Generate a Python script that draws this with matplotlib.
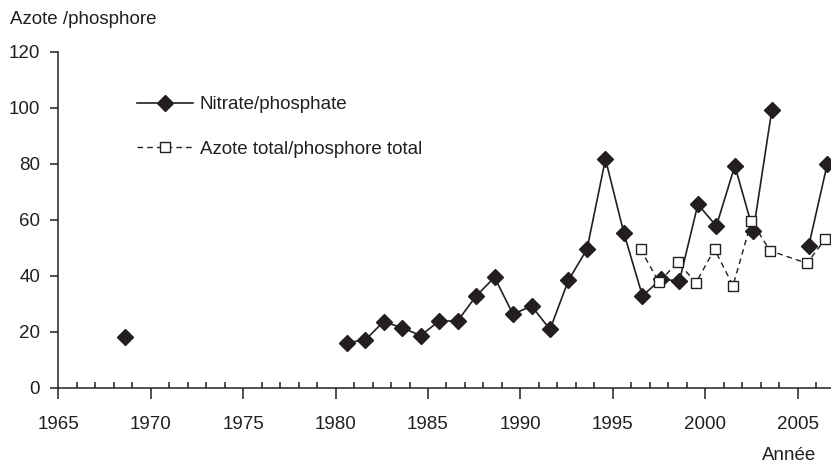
import numpy as np
import matplotlib
matplotlib.use("Agg")
import matplotlib.pyplot as plt
from matplotlib.ticker import MultipleLocator

plt.rcParams["font.family"] = ["Liberation Sans", "DejaVu Sans"]

# Nitrate/phosphate (NaN = no measurement, breaks the line)
nitrate_years = [1968.6, 1980.6, 1981.6, 1982.6, 1983.6, 1984.6, 1985.6, 1986.6,
                 1987.6, 1988.6, 1989.6, 1990.6, 1991.6, 1992.6, 1993.6, 1994.6,
                 1995.6, 1996.6, 1997.6, 1998.6, 1999.6, 2000.6, 2001.6, 2002.6,
                 2003.6, 2004.6, 2005.6, 2006.6]
nitrate_ratio = [18.1, 16.2, 17.1, 23.7, 21.5, 18.7, 23.9, 23.9,
                 32.8, 39.5, 26.3, 29.3, 20.9, 38.5, 49.5, 81.7,
                 55.2, 32.9, 38.8, 38.2, 65.5, 57.8, 79.3, 56.0,
                 99.2, np.nan, 50.8, 79.9]

# Azote total / phosphore total
total_years = [1996.5, 1997.5, 1998.5, 1999.5, 2000.5, 2001.5, 2002.5, 2003.5,
               2005.5, 2006.5]
total_ratio = [49.5, 37.7, 44.9, 37.6, 49.5, 36.5, 59.6, 49.0, 44.5, 53.2]

# the isolated 1968 point is not joined to 1980
nitrate_plot = list(nitrate_ratio)
nitrate_x = list(nitrate_years)
nitrate_x.insert(1, 1975.0)
nitrate_plot.insert(1, np.nan)

ink = "#231f20"
fs = 13.5
W, H = 831, 466
fig = plt.figure(figsize=(W / 100, H / 100), dpi=100)
ax = fig.add_axes([58.3 / W, 1 - 388 / H, 1 - 58.3 / W, (388 - 51.7) / H])

ax.plot(nitrate_x, nitrate_plot, color=ink, lw=1.2, marker="D", ms=8,
        mfc=ink, mec=ink, label="Nitrate/phosphate", zorder=3)
ax.plot(total_years, total_ratio, color=ink, lw=1.0, ls=(0, (4, 3)), marker="s",
        ms=7.5, mfc="white", mec=ink, mew=1.0,
        label="Azote total/phosphore total", zorder=4)

ax.set_xlim(1965, 1965 + (W - 58.3) / 18.485)
ax.set_ylim(0, 120)
ax.xaxis.set_major_locator(MultipleLocator(5))
ax.xaxis.set_minor_locator(MultipleLocator(1))
ax.yaxis.set_major_locator(MultipleLocator(20))

for s in ["top", "right"]:
    ax.spines[s].set_visible(False)
for s in ["left", "bottom"]:
    ax.spines[s].set_color(ink)
    ax.spines[s].set_linewidth(1.1)

ax.tick_params(axis="x", which="major", direction="out", length=8, width=1.1,
               color=ink, labelcolor=ink, labelsize=fs, pad=12)
ax.tick_params(axis="x", which="minor", direction="in", length=4.5, width=1.1,
               color=ink)
ax.tick_params(axis="y", which="major", direction="out", length=6, width=1.1,
               color=ink, labelcolor=ink, labelsize=fs, pad=7)

leg = ax.legend(loc="upper left", bbox_to_anchor=(78.7 / (W - 58.3), 0.868),
                frameon=False, fontsize=fs, handlelength=3.0, handletextpad=0.35,
                labelspacing=1.45, borderpad=0, borderaxespad=0, labelcolor=ink)

fig.text(10 / W, 1 - 20 / H, "Azote /phosphore", fontsize=fs, color=ink,
         ha="left", va="center")
fig.text(816 / W, 1 - 456 / H, "Année", fontsize=fs, color=ink,
         ha="right", va="center")

fig.savefig("out.png", dpi=100)
